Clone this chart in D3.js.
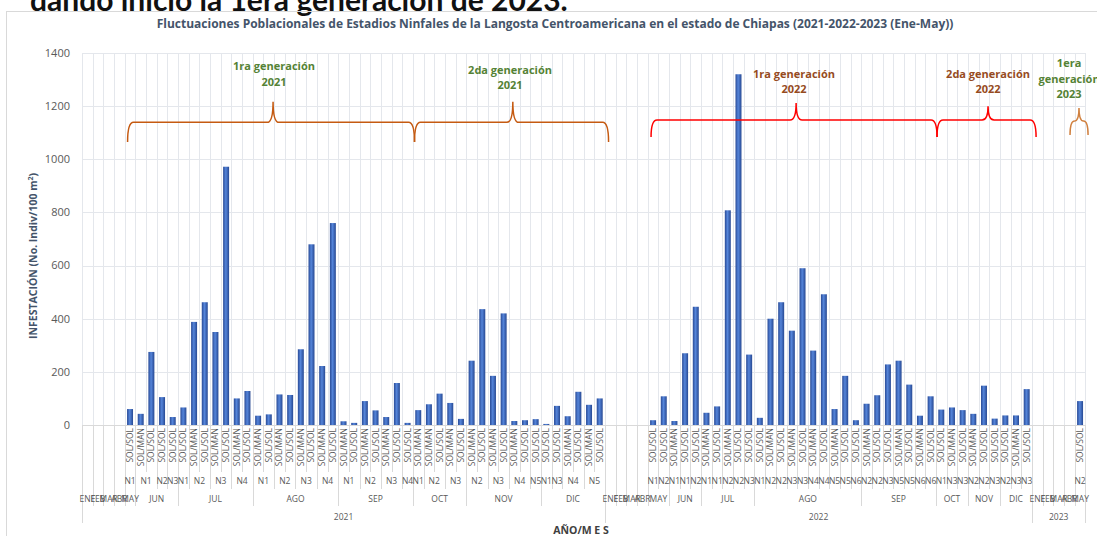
<!DOCTYPE html>
<html lang="es">
<head>
<meta charset="UTF-8">
<title>Fluctuaciones Poblacionales - Langosta Centroamericana</title>
<style>
  body { margin: 0; background: #fff; overflow: hidden; }
  svg { display: block; font-family: "Open Sans", sans-serif; }
  .grid line { stroke: #e4e7ec; stroke-width: 1; }
  .sep { stroke: #d9d9d9; stroke-width: 1; }
  .tick-y { fill: #595959; font-size: 11px; }
  .cat { fill: #595959; font-size: 8.5px; }
</style>
</head>
<body>
<script src="https://cdn.jsdelivr.net/npm/d3@7"></script>
<script>

// ---- datos ----
var anios = ["2021", "2022", "2023"];

var meses2021 = ["ENE","FEB","MAR","ABR","MAY",
  "JUN","JUN","JUN","JUN",
  "JUL","JUL","JUL","JUL","JUL","JUL","JUL",
  "AGO","AGO","AGO","AGO","AGO","AGO","AGO","AGO",
  "SEP","SEP","SEP","SEP","SEP","SEP","SEP",
  "OCT","OCT","OCT","OCT","OCT",
  "NOV","NOV","NOV","NOV","NOV","NOV","NOV",
  "DIC","DIC","DIC","DIC","DIC","DIC"];
var estadios2021 = ["","","","","N1",
  "N1","N1","N2","N3",
  "N1","N2","N2","N3","N3","N4","N4",
  "N1","N1","N2","N2","N3","N3","N4","N4",
  "N1","N1","N2","N2","N3","N3","N4",
  "N1","N2","N2","N3","N3",
  "N2","N2","N3","N3","N4","N4","N5",
  "N1","N3","N4","N4","N5","N5"];
var muestreo2021 = ["","","","","SOL/SOL",
  "SOL/MAN","SOL/SOL","SOL/SOL","SOL/SOL",
  "SOL/SOL","SOL/MAN","SOL/SOL","SOL/MAN","SOL/SOL","SOL/MAN","SOL/SOL",
  "SOL/MAN","SOL/SOL","SOL/MAN","SOL/SOL","SOL/MAN","SOL/SOL","SOL/MAN","SOL/SOL",
  "SOL/MAN","SOL/SOL","SOL/MAN","SOL/SOL","SOL/MAN","SOL/SOL","SOL/SOL",
  "SOL/MAN","SOL/MAN","SOL/SOL","SOL/MAN","SOL/SOL",
  "SOL/MAN","SOL/SOL","SOL/MAN","SOL/SOL","SOL/MAN","SOL/SOL","SOL/SOL",
  "SOL/SOL","SOL/SOL","SOL/MAN","SOL/SOL","SOL/MAN","SOL/SOL"];
var valores2021 = [null,null,null,null,60,
  42,275,105,30,
  66,388,462,350,972,100,128,
  35,40,115,113,285,680,222,760,
  14,8,90,55,30,158,8,
  56,78,118,83,23,
  242,436,185,420,15,18,22,
  4,72,33,125,76,100];

var meses2022 = ["ENE","FEB","MAR","ABR","MAY","MAY",
  "JUN","JUN","JUN",
  "JUL","JUL","JUL","JUL","JUL",
  "AGO","AGO","AGO","AGO","AGO","AGO","AGO","AGO","AGO","AGO",
  "SEP","SEP","SEP","SEP","SEP","SEP","SEP",
  "OCT","OCT","OCT",
  "NOV","NOV","NOV",
  "DIC","DIC","DIC"];
var estadios2022 = ["","","","","N1","N2",
  "N1","N1","N2",
  "N1","N1","N2","N2","N3",
  "N1","N2","N2","N3","N3","N4","N4","N5","N5","N6",
  "N2","N2","N3","N5","N5","N6","N6",
  "N1","N3","N3",
  "N2","N2","N3",
  "N2","N3","N3"];
var muestreo2022 = ["","","","","SOL/SOL","SOL/SOL",
  "SOL/MAN","SOL/SOL","SOL/SOL",
  "SOL/MAN","SOL/SOL","SOL/MAN","SOL/SOL","SOL/SOL",
  "SOL/SOL","SOL/MAN","SOL/SOL","SOL/MAN","SOL/SOL","SOL/MAN","SOL/SOL","SOL/MAN","SOL/SOL","SOL/SOL",
  "SOL/MAN","SOL/SOL","SOL/SOL","SOL/MAN","SOL/SOL","SOL/MAN","SOL/SOL",
  "SOL/SOL","SOL/MAN","SOL/SOL",
  "SOL/MAN","SOL/SOL","SOL/SOL",
  "SOL/SOL","SOL/MAN","SOL/SOL"];
var valores2022 = [null,null,null,null,18,108,
  15,270,445,
  46,70,808,1320,265,
  27,400,462,355,590,280,492,60,185,18,
  80,112,228,242,152,35,108,
  58,66,56,
  42,148,24,
  36,36,135];

var meses2023 = ["ENE","FEB","MAR","ABR","MAY"];
var estadios2023 = ["","","","","N2"];
var muestreo2023 = ["","","","","SOL/SOL"];
var valores2023 = [null,null,null,null,90];

// en 2022 cada celda de estadio va separada
var fusionarEstadios = { "2021": true, "2022": false, "2023": true };

var yTicks = [0, 200, 400, 600, 800, 1000, 1200, 1400];

// llaves: posicion en categorias (índice fraccional), niveles en unidades del eje y
var generaciones = [
  { texto: ["1ra generación", "2021"], color: "#548235", llave: "#c55a11", ini: 4.27, fin: 31.15, pico: 17.9, txt: 17.99, yTxt: 1336, yBase: 1139, yExt: 1065, yPico: 1217 },
  { texto: ["2da generación", "2021"], color: "#548235", llave: "#c55a11", ini: 31.15, fin: 49.33, pico: 40.36, txt: 40.1, yTxt: 1321, yBase: 1139, yExt: 1065, yPico: 1217 },
  { texto: ["1ra generación", "2022"], color: "#964b1e", llave: "#ff0000", ini: 53.31, fin: 80.1, pico: 66.9, txt: 66.7, yTxt: 1306, yBase: 1148, yExt: 1084, yPico: 1212 },
  { texto: ["2da generación", "2022"], color: "#964b1e", llave: "#ff0000", ini: 80.1, fin: 89.38, pico: 84.88, txt: 84.88, yTxt: 1306, yBase: 1148, yExt: 1084, yPico: 1200 },
  { texto: ["1era", "generación", "2023"], color: "#548235", llave: "#d0803f", ini: 92.56, fin: 94.25, pico: 93.4, txt: 92.47, yTxt: 1347, yBase: 1144, yExt: 1091, yPico: 1193 }
];

// ---- armar tabla de categorias ----
var cats = [];
function agregar(anio, meses, estadios, muestreo, valores) {
  meses.forEach(function(m, i) {
    cats.push({ anio: anio, mes: m, estadio: estadios[i], muestreo: muestreo[i], valor: valores[i] });
  });
}
agregar("2021", meses2021, estadios2021, muestreo2021, valores2021);
agregar("2022", meses2022, estadios2022, muestreo2022, valores2022);
agregar("2023", meses2023, estadios2023, muestreo2023, valores2023);
cats.forEach(function(d, i) {
  d.i = i;
  d.kAnio = d.anio;
  d.kMes = d.anio + d.mes;
  d.kEst = d.kMes + d.estadio + (fusionarEstadios[d.anio] ? "" : "#" + i);
});

var w = 1097, h = 536;
var margin = { top: 53, left: 82, right: 11.6, bottom: 111 };

var svg = d3.select("body").append("svg")
  .attr("width", w)
  .attr("height", h);

var defs = svg.append("defs");
var grad = defs.append("linearGradient").attr("id", "barra")
  .attr("x1", "0%").attr("x2", "100%").attr("y1", "0%").attr("y2", "0%");
grad.append("stop").attr("offset", "0%").attr("stop-color", "#284a96");
grad.append("stop").attr("offset", "45%").attr("stop-color", "#5585da");
grad.append("stop").attr("offset", "100%").attr("stop-color", "#264892");

var x = d3.scaleBand()
  .domain(cats.map(function(d) { return d.i; }))
  .range([margin.left, w - margin.right])
  .padding(0);

var y = d3.scaleLinear()
  .domain([0, 1400])
  .range([h - margin.bottom, margin.top]);

function xs(f) { return x.range()[0] + f * x.step(); }

// texto grande cortado arriba
svg.append("text")
  .attr("x", 30)
  .attr("y", 11)
  .attr("font-family", "Lato, sans-serif")
  .attr("font-weight", "bold")
  .attr("font-size", 30)
  .attr("fill", "#111")
  .text("dando inicio la 1era generación de 2023.");

// borde del área del gráfico
svg.append("rect")
  .attr("x", 6.5).attr("y", 11.5)
  .attr("width", w + 20).attr("height", h + 20)
  .attr("fill", "none")
  .attr("stroke", "#d9d9d9");

// titulo
svg.append("text")
  .attr("x", 555)
  .attr("y", 28)
  .attr("text-anchor", "middle")
  .attr("font-weight", "bold")
  .attr("font-size", 12)
  .attr("fill", "#44546a")
  .text("Fluctuaciones Poblacionales de Estadios Ninfales de la Langosta Centroamericana en el estado de Chiapas (2021-2022-2023 (Ene-May))");

// rejilla
var grid = svg.append("g").attr("class", "grid");
grid.selectAll(".h").data(yTicks).enter().append("line")
  .attr("x1", x.range()[0]).attr("x2", x.range()[1])
  .attr("y1", function(d) { return Math.round(y(d)) + 0.5; })
  .attr("y2", function(d) { return Math.round(y(d)) + 0.5; });
grid.selectAll(".v").data(d3.range(cats.length + 1)).enter().append("line")
  .attr("x1", function(i) { return Math.round(xs(i)) + 0.5; })
  .attr("x2", function(i) { return Math.round(xs(i)) + 0.5; })
  .attr("y1", y(1400)).attr("y2", y(0));

// eje y
svg.selectAll(".tick-y").data(yTicks).enter().append("text")
  .attr("class", "tick-y")
  .attr("x", 70)
  .attr("y", function(d) { return y(d); })
  .attr("dy", "0.35em")
  .attr("text-anchor", "end")
  .text(function(d) { return d; });

svg.append("text")
  .attr("transform", "translate(37," + 256 + ") rotate(-90)")
  .attr("text-anchor", "middle")
  .attr("font-weight", "bold")
  .attr("font-size", 10.5)
  .attr("fill", "#44546a")
  .html("INFESTACIÓN (No. Indiv/100 m<tspan baseline-shift='super' font-size='7'>2</tspan>)");

// barras
svg.append("g").selectAll("rect")
  .data(cats.filter(function(d) { return d.valor != null; }))
  .enter().append("rect")
  .attr("x", function(d) { return x(d.i) + x.bandwidth() * 0.22; })
  .attr("width", x.bandwidth() * 0.56)
  .attr("y", function(d) { return y(d.valor); })
  .attr("height", function(d) { return y(0) - y(d.valor); })
  .attr("fill", "url(#barra)");

// linea base
svg.append("line").attr("class", "sep")
  .attr("x1", x.range()[0]).attr("x2", x.range()[1])
  .attr("y1", Math.round(y(0)) + 0.5).attr("y2", Math.round(y(0)) + 0.5);

// eje de categorias multinivel
var baseY = y(0);
var filas = { muestreo: 472, estadio: 489, mes: 506, anio: 523 };

var bordes = d3.range(cats.length + 1).map(function(i) {
  var a = cats[i - 1], b = cats[i];
  var fondo;
  if (!a || !b || a.kAnio !== b.kAnio) fondo = filas.anio;
  else if (a.kMes !== b.kMes) fondo = filas.mes;
  else if (a.kEst !== b.kEst) fondo = filas.estadio;
  else fondo = filas.muestreo;
  return { i: i, fondo: fondo };
});
svg.append("g").selectAll("line").data(bordes).enter().append("line")
  .attr("class", "sep")
  .attr("x1", function(d) { return Math.round(xs(d.i)) + 0.5; })
  .attr("x2", function(d) { return Math.round(xs(d.i)) + 0.5; })
  .attr("y1", baseY).attr("y2", function(d) { return d.fondo; });

// nivel 0: muestreo (rotado)
svg.append("g").selectAll("text")
  .data(cats.filter(function(d) { return d.muestreo; }))
  .enter().append("text")
  .attr("class", "cat")
  .attr("transform", function(d) {
    return "translate(" + (x(d.i) + x.bandwidth() / 2) + "," + (baseY + 3) + ") rotate(-90)";
  })
  .attr("dy", "0.35em")
  .attr("text-anchor", "end")
  .text(function(d) { return d.muestreo; });

function grupos(key) {
  var out = [];
  cats.forEach(function(d) {
    var last = out[out.length - 1];
    if (last && last.k === d[key]) last.fin = d.i;
    else out.push({ k: d[key], ini: d.i, fin: d.i, d: d });
  });
  return out;
}

function etiquetas(key, campo, yy, size) {
  svg.append("g").selectAll("text")
    .data(grupos(key).filter(function(g) { return g.d[campo]; }))
    .enter().append("text")
    .attr("class", "cat")
    .attr("font-size", size)
    .attr("x", function(g) { return (xs(g.ini) + xs(g.fin + 1)) / 2; })
    .attr("y", yy)
    .attr("dy", "0.35em")
    .attr("text-anchor", "middle")
    .text(function(g) { return g.d[campo]; });
}
etiquetas("kEst", "estadio", 481, 9);
etiquetas("kMes", "mes", 499, 9);
etiquetas("kAnio", "anio", 517, 8);

svg.append("text")
  .attr("x", 581).attr("y", 530)
  .attr("dy", "0.35em")
  .attr("text-anchor", "middle")
  .attr("font-weight", "bold")
  .attr("font-size", 10.5)
  .attr("fill", "#404040")
  .text("AÑO/M E S");

// llaves y textos de generaciones
function llave(g) {
  var x0 = xs(g.ini), x1 = xs(g.fin), xm = xs(g.pico);
  var yb = y(g.yBase), ye = y(g.yExt), yp = y(g.yPico);
  var r = Math.min(6, (x1 - x0) / 4);
  return "M" + x0 + "," + ye +
    "Q" + x0 + "," + yb + " " + (x0 + r) + "," + yb +
    "L" + (xm - r) + "," + yb +
    "Q" + xm + "," + yb + " " + xm + "," + yp +
    "Q" + xm + "," + yb + " " + (xm + r) + "," + yb +
    "L" + (x1 - r) + "," + yb +
    "Q" + x1 + "," + yb + " " + x1 + "," + ye;
}
svg.append("g").selectAll("path").data(generaciones).enter().append("path")
  .attr("d", llave)
  .attr("fill", "none")
  .attr("stroke", function(g) { return g.llave; })
  .attr("stroke-width", 1.5);

var gt = svg.append("g").selectAll("text").data(generaciones).enter().append("text")
  .attr("x", function(g) { return xs(g.txt); })
  .attr("y", function(g) { return y(g.yTxt); })
  .attr("text-anchor", "middle")
  .attr("font-weight", "bold")
  .attr("font-size", 11)
  .attr("fill", function(g) { return g.color; });
gt.selectAll("tspan").data(function(g) { return g.texto; }).enter().append("tspan")
  .attr("x", function() { return xs(d3.select(this.parentNode).datum().txt); })
  .attr("dy", function(t, i) { return i === 0 ? 0 : 15.5; })
  .text(function(t) { return t; });

</script>
</body>
</html>
